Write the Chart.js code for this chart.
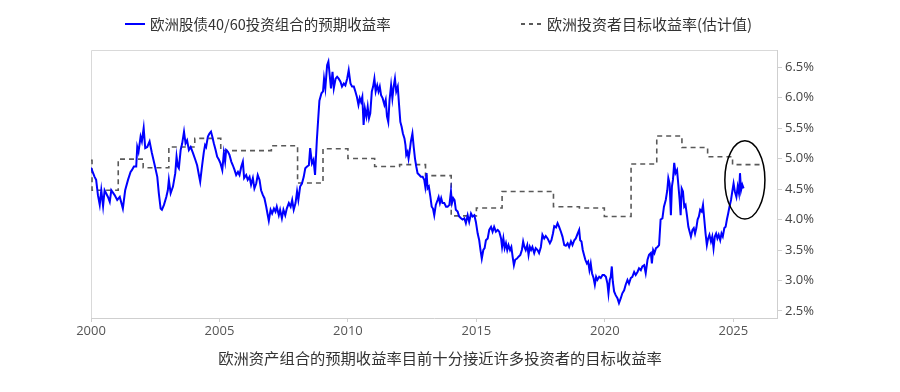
<!DOCTYPE html>
<html>
<head>
<meta charset="utf-8">
<script src="https://cdn.jsdelivr.net/npm/chart.js@4.4.1/dist/chart.umd.min.js"></script>
<style>
  body { margin: 0; background: #fff; }
  #wrap { position: relative; width: 900px; height: 392px; font-family: "Noto Sans CJK SC", sans-serif; color: #333; }
  #chart { position: absolute; left: 0; top: 0; }
  .legend { position: absolute; top: 14px; font-size: 14.5px; line-height: 20px; white-space: nowrap; }
  .legend .mark { position: absolute; top: 10px; width: 20px; }
  .legend .txt { position: absolute; top: 0; }
  #caption { position: absolute; top: 346px; left: 0; width: 880px; text-align: center; font-size: 15.3px; line-height: 22px; }
</style>
</head>
<body>
<div id="wrap">
  <canvas id="chart" width="900" height="392"></canvas>
  <div class="legend" style="left:125px">
    <span class="mark" style="left:0;height:0;border-top:2px solid #0000ff;margin-top:-1px"></span>
    <span class="txt" style="left:25px">欧洲股债40/60投资组合的预期收益率</span>
  </div>
  <div class="legend" style="left:521px;font-size:15px">
    <span class="mark" style="left:0;height:2px;margin-top:-1px;background:repeating-linear-gradient(to right,#595959 0 4px,transparent 4px 8px)"></span>
    <span class="txt" style="left:26px">欧洲投资者目标收益率(估计值)</span>
  </div>
  <div id="caption">欧洲资产组合的预期收益率目前十分接近许多投资者的目标收益率</div>
</div>
<script>
// 欧洲股债40/60投资组合的预期收益率 (year, %)
const expectedReturn = [
  [2000.00,4.85],[2000.14,4.70],[2000.20,4.65],[2000.27,4.40],[2000.34,4.24],[2000.40,4.48],[2000.47,4.22],[2000.53,4.48],
  [2000.66,4.37],[2000.73,4.29],[2000.79,4.48],[2000.92,4.40],[2001.02,4.32],[2001.12,4.37],[2001.24,4.18],[2001.33,4.48],
  [2001.44,4.65],[2001.54,4.78],[2001.59,4.81],[2001.67,4.87],[2001.76,4.87],[2001.80,5.19],[2001.85,5.11],[2001.93,5.36],
  [2001.98,5.28],[2002.05,5.50],[2002.11,5.17],[2002.19,5.19],[2002.28,5.28],[2002.37,5.09],[2002.48,4.89],[2002.58,4.70],
  [2002.64,4.43],[2002.71,4.18],[2002.76,4.16],[2002.84,4.24],[2002.93,4.37],[2002.99,4.48],[2003.03,4.65],[2003.10,4.43],
  [2003.19,4.54],[2003.28,4.76],[2003.33,5.03],[2003.38,4.87],[2003.42,4.84],[2003.49,5.14],[2003.55,5.25],[2003.62,5.44],
  [2003.68,5.25],[2003.74,5.30],[2003.81,5.14],[2003.88,5.19],[2003.97,5.09],[2004.06,4.98],[2004.13,4.89],[2004.20,4.73],
  [2004.25,4.62],[2004.32,4.87],[2004.39,5.10],[2004.44,5.22],[2004.48,5.19],[2004.55,5.36],[2004.61,5.41],[2004.67,5.44],
  [2004.72,5.36],[2004.78,5.25],[2004.85,5.14],[2004.91,5.03],[2004.98,4.98],[2005.04,4.92],[2005.11,4.81],[2005.17,5.09],
  [2005.22,4.95],[2005.26,5.14],[2005.33,5.11],[2005.39,5.06],[2005.46,4.95],[2005.52,4.89],[2005.59,4.81],[2005.65,4.73],
  [2005.72,4.78],[2005.78,4.73],[2005.85,4.87],[2005.91,4.95],[2005.96,4.68],[2006.04,4.73],[2006.10,4.65],[2006.17,4.70],
  [2006.23,4.57],[2006.30,4.68],[2006.36,4.51],[2006.43,4.59],[2006.49,4.73],[2006.56,4.65],[2006.62,4.48],[2006.69,4.40],
  [2006.75,4.35],[2006.82,4.21],[2006.88,4.07],[2006.92,3.98],[2006.99,4.16],[2007.05,4.10],[2007.12,4.18],[2007.18,4.13],
  [2007.23,4.21],[2007.31,4.07],[2007.36,4.16],[2007.43,4.02],[2007.49,4.16],[2007.56,4.07],[2007.62,4.18],[2007.70,4.27],
  [2007.77,4.21],[2007.83,4.32],[2007.89,4.16],[2007.96,4.27],[2008.02,4.46],[2008.07,4.32],[2008.14,4.54],[2008.21,4.59],
  [2008.28,4.70],[2008.34,4.84],[2008.41,4.87],[2008.48,4.89],[2008.53,5.17],[2008.60,4.92],[2008.66,4.98],[2008.72,4.73],
  [2008.79,5.30],[2008.84,5.63],[2008.89,5.95],[2008.97,6.07],[2009.03,6.10],[2009.07,6.31],[2009.12,6.15],[2009.19,6.53],
  [2009.24,6.59],[2009.29,6.37],[2009.34,6.15],[2009.40,6.42],[2009.45,6.15],[2009.52,6.31],[2009.58,6.34],[2009.64,6.31],
  [2009.71,6.26],[2009.77,6.18],[2009.84,6.23],[2009.90,6.20],[2009.97,6.31],[2010.03,6.45],[2010.10,6.23],[2010.16,6.18],
  [2010.23,6.18],[2010.29,6.10],[2010.35,6.01],[2010.41,5.88],[2010.46,5.99],[2010.51,5.93],[2010.56,6.01],[2010.61,5.55],
  [2010.66,5.82],[2010.72,5.69],[2010.77,5.85],[2010.82,5.66],[2010.87,5.74],[2010.93,6.10],[2010.98,6.18],[2011.03,6.31],
  [2011.08,6.10],[2011.14,6.20],[2011.19,6.10],[2011.24,6.18],[2011.29,6.04],[2011.35,5.99],[2011.42,5.88],[2011.47,5.96],
  [2011.52,5.69],[2011.57,5.60],[2011.62,5.96],[2011.68,6.20],[2011.73,5.99],[2011.78,6.18],[2011.83,6.31],[2011.88,6.10],
  [2011.94,6.18],[2011.99,5.88],[2012.04,5.60],[2012.09,5.52],[2012.14,5.41],[2012.20,5.33],[2012.24,5.22],[2012.27,5.06],
  [2012.32,5.11],[2012.36,5.00],[2012.40,5.11],[2012.45,5.28],[2012.51,5.41],[2012.56,5.19],[2012.61,5.00],[2012.66,4.87],
  [2012.71,4.76],[2012.78,4.73],[2012.84,4.70],[2012.91,4.70],[2012.97,4.65],[2013.01,4.54],[2013.06,4.76],[2013.10,4.51],
  [2013.15,4.54],[2013.21,4.37],[2013.26,4.21],[2013.31,4.18],[2013.36,4.07],[2013.42,4.24],[2013.49,4.32],[2013.53,4.37],
  [2013.58,4.27],[2013.63,4.35],[2013.68,4.27],[2013.75,4.27],[2013.82,4.21],[2013.88,4.21],[2013.95,4.24],[2014.01,4.46],
  [2014.05,4.27],[2014.10,4.35],[2014.15,4.32],[2014.20,4.16],[2014.27,4.13],[2014.33,4.05],[2014.40,4.02],[2014.46,4.00],
  [2014.53,4.02],[2014.59,3.94],[2014.66,4.07],[2014.72,3.96],[2014.79,4.10],[2014.85,4.05],[2014.92,4.07],[2014.98,3.96],
  [2015.05,3.77],[2015.11,3.66],[2015.16,3.50],[2015.21,3.36],[2015.27,3.50],[2015.32,3.53],[2015.37,3.66],[2015.44,3.69],
  [2015.50,3.83],[2015.57,3.88],[2015.63,3.80],[2015.69,3.88],[2015.76,3.80],[2015.83,3.83],[2015.89,3.80],[2015.96,3.69],
  [2016.00,3.55],[2016.05,3.69],[2016.10,3.53],[2016.15,3.61],[2016.20,3.50],[2016.25,3.58],[2016.31,3.50],[2016.36,3.55],
  [2016.41,3.39],[2016.46,3.25],[2016.51,3.34],[2016.58,3.36],[2016.64,3.39],[2016.71,3.42],[2016.77,3.50],[2016.82,3.64],
  [2016.87,3.55],[2016.92,3.50],[2016.98,3.58],[2017.03,3.42],[2017.08,3.55],[2017.13,3.50],[2017.18,3.55],[2017.25,3.45],
  [2017.31,3.53],[2017.38,3.50],[2017.44,3.45],[2017.51,3.55],[2017.57,3.75],[2017.64,3.69],[2017.70,3.73],[2017.77,3.69],
  [2017.86,3.61],[2017.92,3.66],[2017.98,3.77],[2018.03,3.89],[2018.10,3.87],[2018.16,3.94],[2018.22,3.88],[2018.29,3.80],
  [2018.35,3.72],[2018.42,3.58],[2018.48,3.57],[2018.55,3.61],[2018.61,3.55],[2018.68,3.64],[2018.74,3.58],[2018.81,3.66],
  [2018.87,3.69],[2018.94,3.77],[2019.00,3.83],[2019.04,3.66],[2019.09,3.64],[2019.14,3.50],[2019.19,3.42],[2019.24,3.34],
  [2019.30,3.28],[2019.35,3.31],[2019.40,3.17],[2019.45,3.28],[2019.50,3.12],[2019.56,3.04],[2019.61,2.93],[2019.66,3.06],
  [2019.71,3.01],[2019.78,3.06],[2019.84,3.04],[2019.91,3.09],[2019.97,3.09],[2020.04,3.06],[2020.10,2.95],[2020.14,2.79],
  [2020.19,3.01],[2020.23,3.06],[2020.27,3.23],[2020.31,2.98],[2020.36,2.82],[2020.42,2.76],[2020.49,2.71],[2020.55,2.63],
  [2020.62,2.71],[2020.68,2.79],[2020.75,2.84],[2020.81,2.93],[2020.88,3.01],[2020.94,2.95],[2021.01,3.04],[2021.07,3.06],
  [2021.14,3.14],[2021.20,3.09],[2021.27,3.14],[2021.33,3.20],[2021.40,3.17],[2021.46,3.23],[2021.53,3.25],[2021.59,3.12],
  [2021.66,3.34],[2021.72,3.42],[2021.79,3.45],[2021.83,3.28],[2021.88,3.50],[2021.93,3.45],[2021.99,3.53],[2022.05,3.55],
  [2022.11,3.58],[2022.17,4.00],[2022.24,4.02],[2022.30,4.21],[2022.37,4.32],[2022.43,4.48],[2022.47,4.68],[2022.52,4.59],
  [2022.57,4.07],[2022.61,4.54],[2022.65,4.65],[2022.70,4.93],[2022.75,4.76],[2022.81,4.81],[2022.86,4.57],[2022.91,4.32],
  [2022.95,4.07],[2022.99,4.51],[2023.04,4.46],[2023.09,4.21],[2023.14,4.24],[2023.20,4.05],[2023.25,3.88],[2023.30,3.80],
  [2023.35,3.72],[2023.41,3.83],[2023.46,3.86],[2023.51,3.77],[2023.56,3.86],[2023.61,4.00],[2023.66,4.05],[2023.71,4.16],
  [2023.77,4.13],[2023.82,4.24],[2023.87,4.00],[2023.92,3.77],[2023.97,3.58],[2024.02,3.69],[2024.07,3.75],[2024.13,3.64],
  [2024.18,3.72],[2024.23,3.53],[2024.28,3.72],[2024.33,3.77],[2024.38,3.69],[2024.43,3.75],[2024.49,3.66],[2024.54,3.77],
  [2024.59,3.72],[2024.65,3.86],[2024.70,3.88],[2024.75,4.00],[2024.80,4.10],[2024.85,4.21],[2024.91,4.32],[2024.96,4.46],
  [2025.01,4.59],[2025.06,4.46],[2025.12,4.37],[2025.17,4.54],[2025.22,4.43],[2025.26,4.76],[2025.30,4.48],[2025.35,4.57],
  [2025.40,4.51]
];

// 欧洲投资者目标收益率(估计值): year the level starts, level %
const targetReturn = [
  [2000.00,4.97],[2000.04,4.48],[2001.06,4.99],[2002.03,4.85],[2003.03,5.19],[2004.04,5.33],[2005.05,5.13],
  [2007.02,5.21],[2008.04,4.60],[2009.03,5.16],[2010.00,5.00],[2011.04,4.87],[2012.01,4.90],[2013.02,4.72],
  [2014.02,4.06],[2015.00,4.19],[2016.00,4.46],[2018.00,4.21],[2019.01,4.19],[2019.98,4.05],[2021.02,4.91],
  [2022.02,5.37],[2023.00,5.18],[2024.00,5.03],[2024.97,4.90],[2026.14,4.90]
];

const yearTicks = [2000, 2005, 2010, 2015, 2020, 2025];
const pctTicks = [2.5, 3.0, 3.5, 4.0, 4.5, 5.0, 5.5, 6.0, 6.5];

// circled area: centre and half-spans in data units
const highlight = { x: 2025.45, y: 4.65, dx: 0.78, dy: 0.64 };

const tickFont = { family: "'Open Sans', sans-serif", size: 13 };

const framePlugin = {
  id: 'frame',
  beforeDatasetsDraw(chart) {
    const a = chart.chartArea, ctx = chart.ctx;
    ctx.save();
    ctx.strokeStyle = '#d9d9d9';
    ctx.lineWidth = 1;
    ctx.beginPath();
    ctx.moveTo(a.left + 0.5, a.bottom);
    ctx.lineTo(a.left + 0.5, a.top + 0.5);
    ctx.lineTo(a.right, a.top + 0.5);
    ctx.stroke();
    ctx.restore();
  }
};

const circlePlugin = {
  id: 'circle',
  afterDatasetsDraw(chart) {
    const xs = chart.scales.x, ys = chart.scales.y, ctx = chart.ctx;
    const cx = xs.getPixelForValue(highlight.x);
    const cy = ys.getPixelForValue(highlight.y);
    const rx = Math.abs(xs.getPixelForValue(highlight.x + highlight.dx) - cx);
    const ry = Math.abs(ys.getPixelForValue(highlight.y + highlight.dy) - cy);
    ctx.save();
    ctx.strokeStyle = '#000';
    ctx.lineWidth = 1.5;
    ctx.beginPath();
    ctx.ellipse(cx, cy, rx, ry, 0, 0, Math.PI * 2);
    ctx.stroke();
    ctx.restore();
  }
};

new Chart(document.getElementById('chart'), {
  type: 'line',
  data: {
    datasets: [{
      label: '欧洲股债40/60投资组合的预期收益率',
      data: expectedReturn.map(p => ({ x: p[0], y: p[1] })),
      borderColor: '#0000ff',
      borderWidth: 2,
      pointRadius: 0,
      tension: 0,
      fill: false
    }, {
      label: '欧洲投资者目标收益率(估计值)',
      data: targetReturn.map(p => ({ x: p[0], y: p[1] })),
      borderColor: '#595959',
      borderWidth: 1.6,
      borderDash: [5, 4],
      stepped: 'before',
      pointRadius: 0,
      fill: false
    }]
  },
  options: {
    responsive: false,
    animation: false,
    devicePixelRatio: 1,
    layout: { padding: { left: 91, top: 50, right: 0, bottom: 0 } },
    plugins: { legend: { display: false }, tooltip: { enabled: false } },
    scales: {
      x: {
        type: 'linear',
        min: 2000,
        max: 2026.7,
        afterBuildTicks: s => { s.ticks = yearTicks.map(v => ({ value: v })); },
        afterFit: s => { s.height = 74; },
        ticks: { color: '#555', font: tickFont, padding: 1, maxRotation: 0, callback: v => String(v) },
        grid: { drawOnChartArea: false, drawTicks: true, tickLength: 4, color: '#cfcfcf' },
        border: { display: true, color: '#cfcfcf' }
      },
      y: {
        position: 'right',
        min: 2.385,
        max: 6.78,
        afterBuildTicks: s => { s.ticks = pctTicks.map(v => ({ value: v })); },
        afterFit: s => { s.width = 123; },
        ticks: { color: '#444', font: tickFont, padding: 3, callback: v => v.toFixed(1) + '%' },
        grid: { drawOnChartArea: false, drawTicks: true, tickLength: 5, color: '#cfcfcf' },
        border: { display: true, color: '#cfcfcf' }
      }
    }
  },
  plugins: [framePlugin, circlePlugin]
});
</script>
</body>
</html>
